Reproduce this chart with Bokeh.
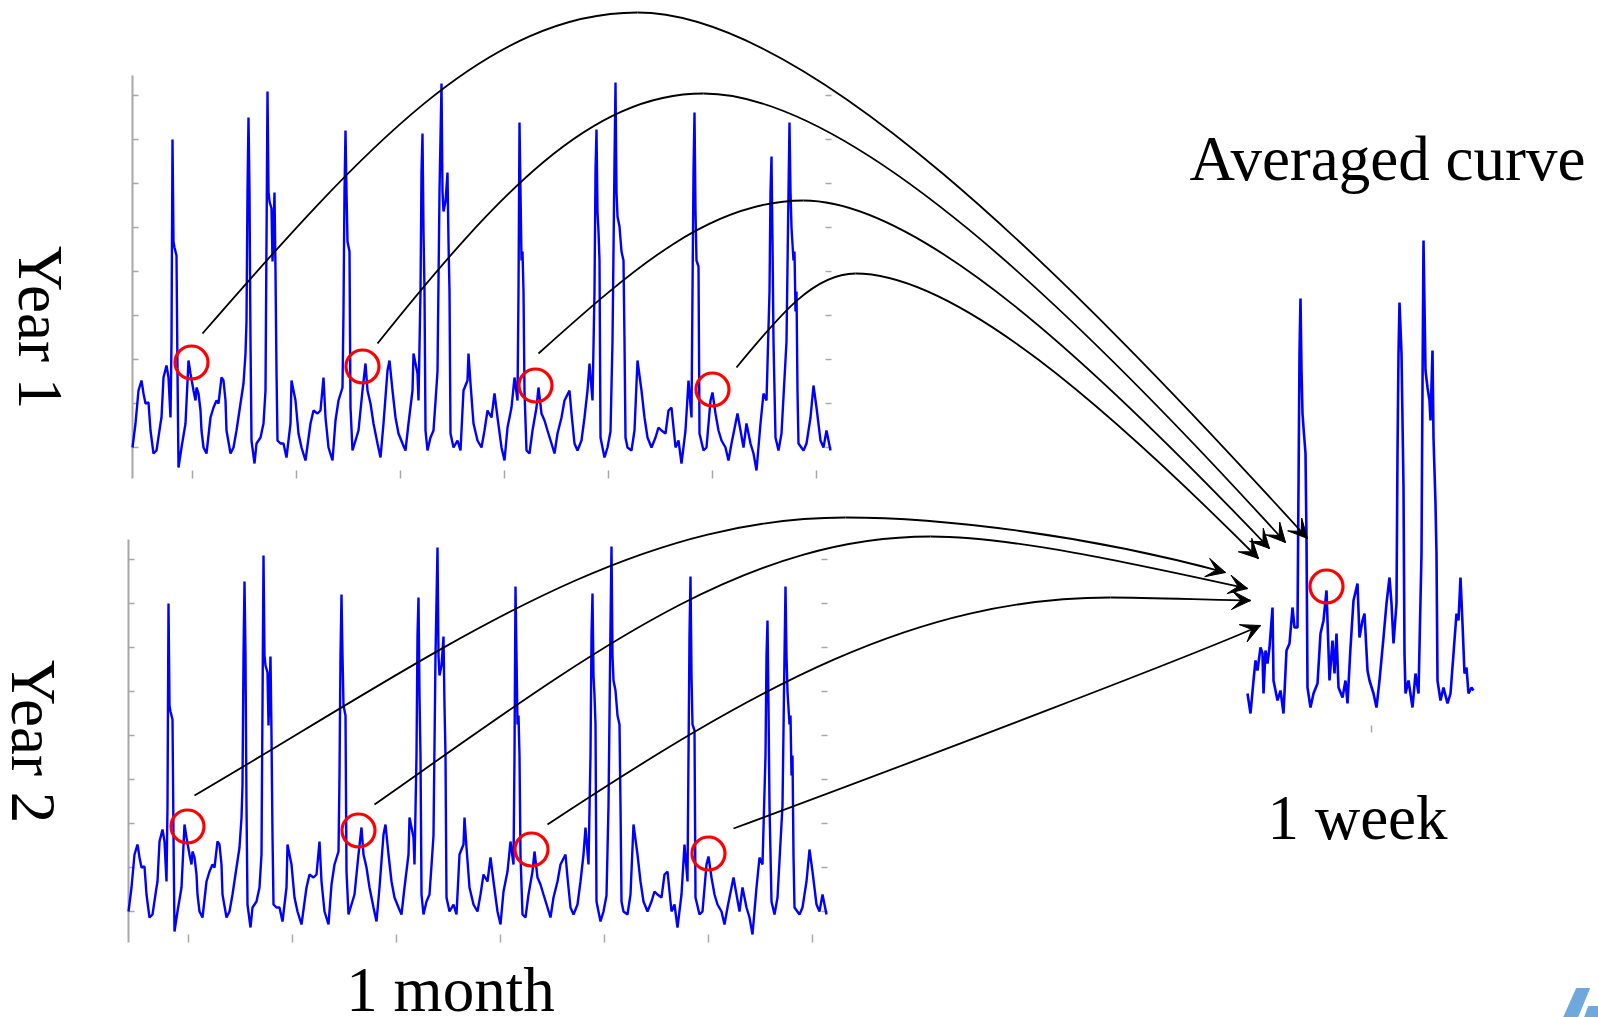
import numpy as np
from bokeh.plotting import figure
from bokeh.models import Range1d, Arrow, VeeHead, Label
from bokeh.embed import file_html
from bokeh.resources import INLINE

# ---------------- data ----------------
# one month of load, arbitrary units; time in sample steps (4 weeks ~ 698 steps)
t_month = [0,3,6,9,11,13,16,18,21,24,28,29,31,34,36,38,39,40,41,42,44,45,46,49,53,56,58,61,63,64,
           66,68,69,71,74,78,81,84,86,89,91,93,94,98,101,104,108,111,113,114,115,116,117,118,119,122,124,128,131,133,
           134,135,136,137,139,140,142,143,144,145,148,151,154,158,159,163,166,169,173,
           178,181,185,188,191,193,196,200,203,206,210,211,212,213,214,215,217,218,220,223,
           226,230,233,235,238,241,245,248,251,255,257,260,263,266,270,273,276,280,281,285,
           286,288,289,290,291,292,293,295,298,301,303,305,307,309,310,311,313,315,316,317,
           318,321,325,328,331,335,336,338,341,345,
           349,352,355,359,362,365,369,372,375,379,382,385,386,387,388,389,390,391,392,394,
           397,400,404,406,409,412,415,419,422,425,429,432,437,439,442,445,449,452,455,457,
           460,462,463,464,465,466,467,468,472,475,478,480,482,483,484,485,487,489,491,492,
           493,495,499,502,505,509,512,515,
           519,523,526,529,533,536,539,543,546,549,553,556,559,560,561,562,563,564,566,567,
           571,574,578,580,583,586,589,593,596,599,603,605,608,611,614,618,621,624,628,631,
           634,637,638,639,640,641,643,646,649,654,656,657,658,659,661,662,663,664,665,666,
           671,674,678,681,684,688,691,694,698]
load_month = [44,68,101,111,98,88,89,61,38,41,68,74,114,126,114,74,150,352,250,244,
              236,120,24,44,68,131,118,101,91,104,98,81,61,44,38,74,84,91,88,114,
              111,91,61,38,44,61,88,108,138,170,300,374,300,150,51,28,48,54,68,101,
              250,400,300,290,283,230,299,220,120,51,48,48,34,68,111,91,58,44,31,
              68,81,78,81,114,74,44,31,71,91,104,180,300,361,300,250,240,84,41,51,
              61,101,128,101,88,68,48,34,68,121,131,101,74,58,48,41,68,101,138,118,
              91,200,320,358,260,200,61,41,54,61,90,120,300,408,300,280,290,319,250,200,
              58,44,51,41,101,111,138,108,68,51,
              44,61,81,74,98,74,44,31,64,84,114,91,200,369,300,231,240,200,100,41,
              38,61,84,104,78,71,61,48,38,58,74,91,101,78,48,41,51,74,101,128,
              91,200,320,362,280,260,231,54,34,44,60,150,330,409,300,275,265,240,231,150,
              54,44,41,61,131,101,74,54,
              44,54,64,61,58,81,84,44,51,28,61,111,74,200,320,379,280,231,225,58,
              41,44,91,99,78,61,51,44,31,48,68,78,61,44,68,48,38,21,68,98,
              91,200,300,335,250,150,54,41,58,150,300,369,300,264,231,240,180,200,100,48,
              41,48,74,106,84,51,44,61,41]

# averaged one-week curve
t_week = [0,3,6,8,10,13,15,16,18,20,22,25,26,30,33,36,39,42,45,47,
          50,51,52,53,54,55,56,58,59,60,63,66,70,73,76,79,80,82,85,87,
          89,91,95,98,100,103,106,110,112,115,117,120,122,126,129,132,136,139,142,144,
          146,149,150,151,152,154,155,156,157,158,161,165,168,171,174,175,176,178,180,182,
          183,185,186,188,189,190,193,196,200,203,206,209,211,213,215,217,219,221,224,226]
load_week = [47,27,60,80,70,93,87,47,90,77,93,133,60,40,50,27,90,97,133,113,
             113,253,387,442,370,327,313,287,203,53,33,47,57,107,120,150,120,60,100,67,
             107,53,43,60,37,93,140,157,103,120,127,70,60,47,33,60,103,137,163,137,
             97,137,287,387,438,387,320,253,87,47,60,33,67,47,187,353,500,370,353,340,
             320,390,303,237,187,60,40,53,37,47,87,127,120,163,117,67,73,47,53,50]

# circled points (same position in each year's month)
circle_t = [59, 230, 403, 580]
circle_h = [129, 125, 106, 102]
week_circle_t = [79]
week_circle_h = [154]

# tick positions
month_yticks = [44, 88, 132, 176, 220, 264, 308, 352, 396]
month_xticks = [60, 164, 268, 372, 476, 580, 684]
week_xticks = [124]

assert len(t_month) == len(load_month) and len(t_week) == len(load_week)

# ---------------- figure ----------------
W, H = 1598, 1017
p = figure(width=W, height=H, x_range=Range1d(0, W), y_range=Range1d(H, 0),
           output_backend="svg", toolbar_location=None,
           x_axis_location=None, y_axis_location=None, min_border=0,
           outline_line_color=None, title=None)
p.grid.visible = False
p.background_fill_color = "white"
p.border_fill_color = "white"

# panel placement: (left px, zero-line px from top)
panels = {"y1": (132, 491), "y2": (128, 955), "wk": (1247, 740)}
for name, (x0, y0) in panels.items():
    p.extra_x_ranges[name + "x"] = Range1d(-x0, W - x0)
    p.extra_y_ranges[name + "y"] = Range1d(-(H - y0), y0)

BLUE = "#0000ff"
GRAY = "#a8a8a8"

for name in ("y1", "y2"):
    kw = dict(x_range_name=name + "x", y_range_name=name + "y")
    # axis decorations
    p.segment(x0=[0], y0=[13], x1=[0], y1=[416], line_color=GRAY, line_width=2, **kw)
    p.segment(x0=[0] * 9, y0=month_yticks, x1=[6] * 9, y1=month_yticks, line_color=GRAY, line_width=1.5, **kw)
    p.segment(x0=[693] * 9, y0=month_yticks, x1=[699] * 9, y1=month_yticks, line_color=GRAY, line_width=1.5, **kw)
    p.segment(x0=month_xticks, y0=[13] * 7, x1=month_xticks, y1=[21] * 7, line_color=GRAY, line_width=1.5, **kw)
    p.line(t_month, load_month, line_color=BLUE, line_width=2.4, **kw)
    p.scatter(circle_t, circle_h, marker="circle", size=33, fill_color=None,
              line_color="#ff0000", line_width=3.2, **kw)

kw = dict(x_range_name="wkx", y_range_name="wky")
p.segment(x0=week_xticks, y0=[8], x1=week_xticks, y1=[15], line_color=GRAY, line_width=1.5, **kw)
p.line(t_week, load_week, line_color=BLUE, line_width=2.6, **kw)
p.scatter(week_circle_t, week_circle_h, marker="circle", size=33, fill_color=None,
          line_color="#ff0000", line_width=3.2, **kw)

# ---------------- connecting arrows (screen layout, y from top) ----------------
arcs = [  # start, peak, tip, start slope, end slope
    ((202, 333), (637, 12), (1307, 538), 1.15, 1.10),
    ((377, 343), (703, 93), (1285, 542), 1.25, 1.10),
    ((538, 353), (803, 200), (1269, 548), 0.90, 1.05),
    ((736, 367), (855, 273), (1258, 558), 1.22, 1.00),
    ((194, 795), (845, 517), (1225, 572), 0.585, 0.27),
    ((374, 804), (930, 536), (1247, 588), 0.70, 0.22),
    ((547, 824), (1110, 597), (1250, 600), 0.66, 0.02),
]
bx0, by0, bx1, by1, bcx0, bcy0, bcx1, bcy1 = ([] for _ in range(8))
heads = []
a, b1, b2 = 0.37, 0.345, 0.25
for (S, P, E, m1, m2) in arcs:
    s1 = P[0] - S[0]
    c1 = (S[0] + a * s1, max(S[1] - a * s1 * m1, P[1]))
    c2 = (P[0] - b1 * s1, P[1])
    s2 = E[0] - P[0]
    c3 = (P[0] + b2 * s2, P[1])
    c4 = (E[0] - a * s2, max(E[1] - a * s2 * m2, P[1]))
    for (A0, C0, C1, A1) in ((S, c1, c2, P), (P, c3, c4, E)):
        bx0.append(A0[0]); by0.append(A0[1]); bx1.append(A1[0]); by1.append(A1[1])
        bcx0.append(C0[0]); bcy0.append(C0[1]); bcx1.append(C1[0]); bcy1.append(C1[1])
    heads.append((c4, E))
# nearly straight last arrow
S, E = (733, 828), (1260, 625)
c1 = (S[0] + 200, S[1] - 200 * 0.37)
c2 = (E[0] - 60, E[1] + 60 * 0.45)
bx0.append(S[0]); by0.append(S[1]); bx1.append(E[0]); by1.append(E[1])
bcx0.append(c1[0]); bcy0.append(c1[1]); bcx1.append(c2[0]); bcy1.append(c2[1])
heads.append((c2, E))

p.bezier(x0=bx0, y0=by0, x1=bx1, y1=by1, cx0=bcx0, cy0=bcy0, cx1=bcx1, cy1=bcy1,
         line_color="black", line_width=1.8)
for (C, E) in heads:
    d = np.array(E, float) - np.array(C, float)
    d /= np.hypot(*d)
    st = np.array(E, float) - 6 * d
    p.add_layout(Arrow(end=VeeHead(size=19, fill_color="black", line_color="black", line_width=1),
                       x_start=st[0], y_start=st[1], x_end=E[0], y_end=E[1],
                       line_color="black", line_width=1.8))

# ---------------- texts ----------------
FONT = "Liberation Serif"
def lab(x, y, text, align="center", baseline="alphabetic", angle=0.0):
    p.add_layout(Label(x=x, y=y, text=text, text_font=FONT, text_font_size="63px",
                       text_color="black", text_align=align, text_baseline=baseline, angle=angle))

lab(1387, 158, "Averaged curve")
lab(1357, 817, "1 week")
lab(450, 989, "1 month")
lab(39, 327, "Year 1", baseline="middle", angle=-np.pi / 2)
lab(32, 741, "Year 2", baseline="middle", angle=-np.pi / 2)

# logo fragment in the corner
p.patch([1563, 1577, 1589, 1576], [1017, 1017, 988, 988], color="#6fa8dc")
p.patch([1584, 1598, 1598, 1588], [1017, 1017, 1006, 1006], color="#6fa8dc")

open("out.html", "w").write(file_html(p, INLINE))
